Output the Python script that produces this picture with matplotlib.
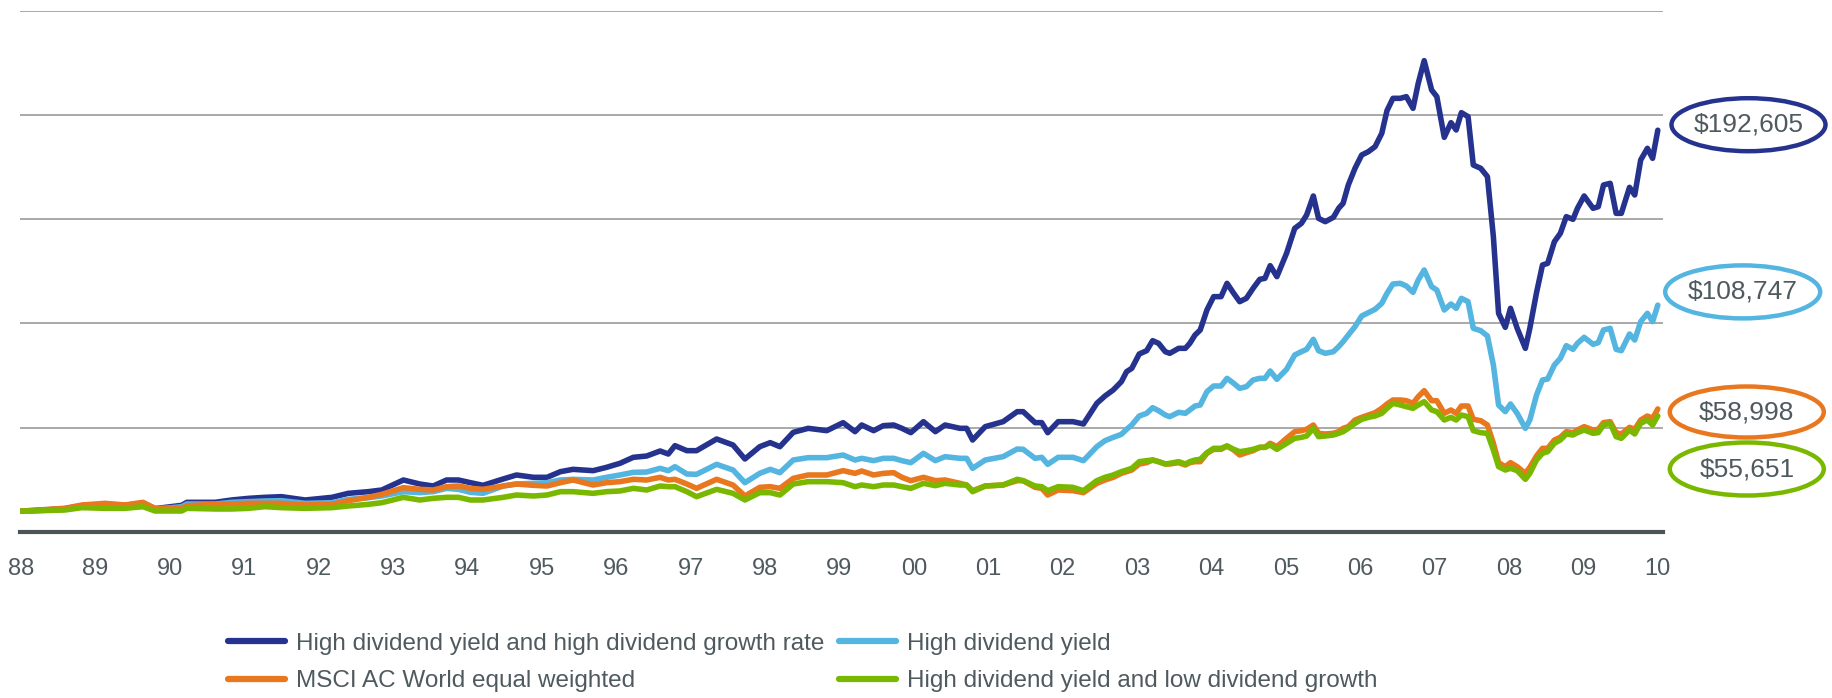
import matplotlib.pyplot as plt
from matplotlib.patches import Ellipse
from matplotlib.lines import Line2D

plt.rcParams['font.family'] = ['Liberation Sans', 'DejaVu Sans']

# growth of $10,000, values in $ thousands
dates = [
    1988.00, 1988.23, 1988.59, 1988.82, 1989.13, 1989.40, 1989.64, 1989.80, 1990.16, 1990.23,
    1990.61, 1990.83, 1991.06, 1991.28, 1991.50, 1991.82, 1992.18, 1992.40, 1992.67, 1992.85,
    1993.14,
    1993.36, 1993.54, 1993.72, 1993.88, 1994.04, 1994.21, 1994.48, 1994.66, 1994.89, 1995.07,
    1995.25, 1995.42, 1995.69, 1995.87, 1996.05, 1996.23, 1996.41, 1996.59, 1996.70, 1996.79,
    1996.95, 1997.08, 1997.35, 1997.57, 1997.73, 1997.93, 1998.07, 1998.20, 1998.38, 1998.58,
    1998.83,
    1999.05, 1999.21, 1999.30, 1999.46, 1999.59, 1999.73, 1999.84, 1999.96, 2000.13, 2000.29,
    2000.42, 2000.62, 2000.71, 2000.79, 2000.96, 2001.20, 2001.39, 2001.47, 2001.63, 2001.72,
    2001.80, 2001.94, 2002.14, 2002.28, 2002.46, 2002.57, 2002.68, 2002.79, 2002.86, 2002.93,
    2003.03, 2003.13, 2003.21, 2003.29, 2003.38, 2003.44, 2003.56, 2003.65, 2003.71, 2003.78,
    2003.85, 2003.94, 2004.03, 2004.13, 2004.21, 2004.30, 2004.38, 2004.47, 2004.56, 2004.65,
    2004.72, 2004.79, 2004.88, 2005.01, 2005.12, 2005.21, 2005.28, 2005.37, 2005.44, 2005.53,
    2005.64, 2005.71, 2005.77, 2005.84, 2005.93, 2006.02, 2006.11, 2006.20, 2006.29, 2006.36,
    2006.44, 2006.54, 2006.62, 2006.71, 2006.78, 2006.86, 2006.96,
    2007.03, 2007.13, 2007.22, 2007.29, 2007.36, 2007.45, 2007.52, 2007.62, 2007.71, 2007.79,
    2007.86, 2007.95, 2008.02, 2008.11, 2008.22, 2008.28, 2008.37, 2008.45, 2008.52, 2008.61,
    2008.69, 2008.77, 2008.86, 2008.92, 2009.01, 2009.13, 2009.20, 2009.27, 2009.36, 2009.44,
    2009.51, 2009.62, 2009.69, 2009.77, 2009.86, 2009.93, 2010.00,
]

hy_high_growth = [
    10.00, 10.39, 11.19, 12.62, 13.26, 12.78, 13.90, 11.19, 12.78, 14.22,
    14.22, 15.34, 16.14, 16.62, 16.94, 15.34, 16.62, 18.54, 19.34, 20.14,
    24.93,
    23.01, 22.05, 24.93, 24.93, 23.65, 22.37, 25.41, 27.33, 26.21, 26.21,
    28.92, 30.04, 29.40, 31.00, 32.92, 35.80, 36.43, 38.83, 37.39, 41.39,
    38.99, 38.99, 44.58, 41.71, 35.00, 40.91, 42.83, 40.91, 47.78, 49.70,
    48.58,
    52.42, 48.10, 51.30, 48.58, 50.98, 51.30, 49.70, 47.62, 52.89, 48.10,
    51.30, 49.70, 49.70, 44.10, 50.50, 52.89, 57.69, 57.69, 52.42, 52.42,
    47.62, 52.89, 52.89, 51.78, 61.68, 65.20, 68.07, 72.07, 76.86, 78.46,
    85.33, 86.93, 91.72, 90.45, 86.45, 85.65, 88.05, 88.05, 90.45, 94.44,
    96.84, 106.43, 112.82, 112.82, 119.21, 114.42, 110.42, 112.02, 116.81, 121.13,
    121.61, 127.68, 122.41, 133.59, 145.58, 147.97, 151.97, 161.08, 150.37, 148.77,
    150.85, 155.17, 157.56, 166.35, 174.34, 180.73, 182.33, 184.73, 191.12, 201.99,
    207.90, 207.90, 208.70, 203.11, 215.09, 225.96, 211.89,
    208.70, 189.20, 196.23, 192.72, 201.03, 199.11, 175.94, 174.34, 170.35, 141.58,
    104.83, 98.12, 107.23, 97.64, 88.05, 97.64, 114.74, 128.00, 128.80, 139.18,
    143.18, 151.17, 149.89, 155.17, 161.08, 155.17, 155.96, 166.35, 167.15, 152.77,
    152.77, 165.23, 161.56, 178.34, 183.93, 179.14, 192.605,
]

hy = [
    10.00, 10.23, 10.87, 12.14, 12.62, 12.46, 13.26, 10.87, 12.14, 13.42,
    13.42, 14.22, 14.54, 14.86, 15.02, 13.74, 14.06, 15.66, 16.46, 17.26,
    19.34,
    18.86, 19.34, 20.93, 20.45, 19.02, 18.54, 22.05, 23.01, 23.33, 23.65,
    24.93, 25.25, 24.93, 26.21, 27.33, 28.60, 28.76, 30.52, 29.40, 31.32,
    27.81, 27.65, 32.44, 29.72, 23.65, 28.12, 30.04, 28.44, 34.52, 35.64,
    35.64,
    36.91, 34.52, 35.32, 34.20, 35.32, 35.32, 34.20, 33.24, 37.71, 34.20,
    36.11, 35.32, 35.32, 30.52, 34.52, 36.11, 39.79, 39.63, 35.32, 35.80,
    32.44, 35.80, 35.80, 34.20, 40.91, 43.78, 45.38, 46.82, 49.22, 51.30,
    55.61, 56.89, 59.60, 58.17, 56.09, 55.29, 57.37, 56.89, 58.49, 60.40,
    60.88, 67.28, 69.99, 69.99, 73.67, 71.27, 68.87, 69.67, 72.87, 73.67,
    73.67, 77.18, 73.19, 77.98, 84.85, 86.45, 87.57, 92.37, 86.93, 85.65,
    86.45, 88.85, 91.24, 94.44, 98.44, 103.55, 105.15, 106.75, 109.62, 114.42,
    118.89, 119.21, 117.93, 114.90, 120.81, 125.60, 117.61,
    116.01, 106.43, 109.30, 107.23, 112.02, 110.42, 97.64, 96.52, 93.96, 80.06,
    60.88, 57.69, 61.36, 56.89, 49.70, 53.69, 65.68, 72.87, 73.35, 80.06,
    83.26, 89.33, 87.57, 90.45, 93.32, 89.97, 90.77, 96.84, 97.64, 87.57,
    86.93, 94.92, 92.04, 100.84, 104.83, 100.84, 108.747,
]

msci_acwi_eq = [
    10.00, 10.55, 11.35, 12.94, 13.74, 12.94, 14.22, 11.35, 11.35, 12.62,
    13.26, 13.42, 13.74, 13.74, 13.74, 12.94, 13.26, 15.02, 16.62, 18.06,
    21.25,
    20.45, 20.13, 21.73, 22.05, 20.93, 20.45, 22.05, 23.01, 22.37, 22.05,
    23.65, 24.93, 22.53, 23.65, 24.13, 25.25, 24.93, 26.21, 24.93, 25.25,
    23.01, 20.93, 25.25, 22.53, 17.26, 21.41, 21.73, 20.93, 25.73, 27.33,
    27.33,
    29.40, 28.12, 29.24, 27.33, 28.12, 28.44, 26.21, 24.61, 26.21, 24.61,
    24.93, 23.33, 22.53, 19.81, 22.05, 22.53, 24.61, 24.61, 21.41, 20.93,
    17.74, 20.13, 19.81, 18.86, 23.33, 24.93, 26.21, 28.12, 28.92, 29.72,
    32.60, 33.24, 34.52, 33.72, 32.60, 32.60, 33.24, 32.12, 33.24, 33.72,
    33.72, 37.71, 39.63, 39.63, 41.23, 39.31, 36.91, 38.03, 38.99, 40.59,
    40.59, 42.51, 40.91, 44.91, 48.10, 48.58, 49.22, 51.30, 47.30, 46.98,
    47.30, 48.10, 49.70, 50.50, 53.69, 54.97, 56.09, 57.21, 59.29, 61.36,
    63.28, 63.28, 62.96, 61.68, 64.88, 67.75, 62.96,
    62.96, 56.89, 58.49, 56.89, 60.40, 60.40, 54.01, 53.37, 51.30, 42.51,
    33.24, 31.32, 33.24, 31.32, 28.12, 31.00, 36.43, 40.11, 40.11, 44.10,
    45.38, 48.10, 47.62, 48.90, 50.50, 48.90, 49.22, 52.42, 52.89, 47.62,
    46.98, 50.18, 49.22, 53.69, 55.61, 54.49, 58.998,
]

hy_low_growth = [
    10.00, 10.23, 10.55, 11.67, 11.35, 11.35, 12.14, 10.07, 10.07, 11.35,
    11.03, 11.03, 11.35, 12.14, 11.67, 11.35, 11.67, 12.46, 13.26, 14.06,
    16.62,
    15.34, 16.14, 16.62, 16.62, 15.34, 15.34, 16.62, 17.74, 17.26, 17.74,
    19.34, 19.34, 18.54, 19.34, 19.66, 20.93, 20.13, 22.05, 21.73, 21.73,
    19.34, 16.94, 20.45, 18.54, 15.34, 18.86, 18.86, 17.74, 23.01, 24.13,
    24.13,
    23.65, 21.73, 22.53, 21.73, 22.53, 22.53, 21.73, 20.93, 23.33, 22.21,
    23.33, 22.53, 22.53, 19.34, 22.05, 22.53, 25.25, 24.61, 22.05, 21.73,
    19.81, 21.73, 21.41, 19.81, 24.61, 26.21, 27.33, 28.92, 29.72, 30.52,
    33.72, 34.20, 34.52, 33.72, 32.60, 32.92, 33.72, 32.60, 33.72, 34.52,
    34.84, 38.03, 40.11, 40.11, 41.23, 39.63, 38.51, 38.99, 39.63, 40.59,
    40.59, 41.71, 39.63, 42.51, 44.91, 45.38, 46.02, 49.70, 45.70, 46.02,
    46.50, 47.30, 48.10, 49.70, 52.10, 54.01, 54.97, 55.61, 56.89, 59.29,
    61.68, 60.88, 60.08, 59.29, 60.88, 62.48, 58.49,
    57.69, 53.69, 54.97, 53.69, 56.09, 55.29, 48.58, 47.62, 47.30, 39.31,
    31.32, 29.72, 30.52, 29.40, 25.25, 28.12, 34.52, 37.71, 38.51, 42.51,
    44.10, 46.98, 46.50, 47.62, 48.90, 47.30, 47.62, 51.30, 52.10, 45.70,
    44.91, 48.90, 46.98, 52.10, 53.69, 51.30, 55.651,
]

labels = [
    "High dividend yield and high dividend growth rate",
    "High dividend yield",
    "MSCI AC World equal weighted",
    "High dividend yield and low dividend growth",
]
year_ticks = list(range(1988, 2011))
year_labels = ["%02d" % (y % 100) for y in year_ticks]

navy = "#25338f"
sky = "#53b5e0"
orange = "#e8771e"
green = "#7ab800"
text_col = "#4f5a5e"

fig = plt.figure(figsize=(18.33, 6.98), dpi=100)
W, H = 1833, 698
ax = fig.add_axes([20 / W, 166 / H, 1643 / W, 521.5 / H])

series = [
    (hy_high_growth, navy, labels[0]),
    (hy, sky, labels[1]),
    (msci_acwi_eq, orange, labels[2]),
    (hy_low_growth, green, labels[3]),
]
lines = {}
for vals, col, lab in series:
    ln, = ax.plot(dates, [v * 1000 for v in vals], color=col, lw=4.0,
                  solid_joinstyle="round", solid_capstyle="round", label=lab)
    lines[lab] = ln

ax.set_xlim(1988 - 1 / 74.4, 1988 + 1642 / 74.4)
ax.set_ylim(0, 250000)
ax.set_yticks(range(0, 250001, 50000))
ax.yaxis.grid(True, color="#a3a3a3", lw=1.3)
ax.set_axisbelow(True)
ax.tick_params(axis="y", left=False, labelleft=False)
ax.set_xticks(year_ticks)
ax.set_xticklabels(year_labels)
ax.tick_params(axis="x", length=0, pad=18.5, labelsize=17, labelcolor=text_col)
for s in ["top", "left", "right"]:
    ax.spines[s].set_visible(False)
ax.spines["bottom"].set_color("#4b5558")
ax.spines["bottom"].set_linewidth(3)
ax.spines["bottom"].set_zorder(5)

# end values circled on the right
ends = [
    (hy_high_growth[-1], navy, 1748.5, 124.7, 154, 53),
    (hy[-1], sky, 1742.7, 291.9, 155, 53),
    (msci_acwi_eq[-1], orange, 1746.8, 412.0, 154, 51),
    (hy_low_growth[-1], green, 1746.8, 469.0, 154, 53),
]
for v, col, cx, cy, ew, eh in ends:
    fig.patches.append(Ellipse((cx / W, 1 - cy / H), ew / W, eh / H,
                               transform=fig.transFigure, fill=False,
                               edgecolor=col, lw=3.2))
    fig.text(cx / W, 1 - cy / H, "${:,.0f}".format(v * 1000), ha="center",
             va="center", fontsize=19, color=text_col)

order = [labels[0], labels[2], labels[1], labels[3]]
leg_handles = [Line2D([], [], color=lines[l].get_color(), lw=4.5,
                      solid_capstyle="round") for l in order]
fig.legend(leg_handles, order, ncol=2, loc="upper left",
           bbox_to_anchor=(228 / W, 1 - 632.5 / H), frameon=False,
           fontsize=17.5, labelcolor=text_col, borderpad=0, borderaxespad=0,
           handlelength=2.35, handletextpad=0.45, columnspacing=0.6,
           labelspacing=0.65)

fig.savefig("out.png", dpi=100)
